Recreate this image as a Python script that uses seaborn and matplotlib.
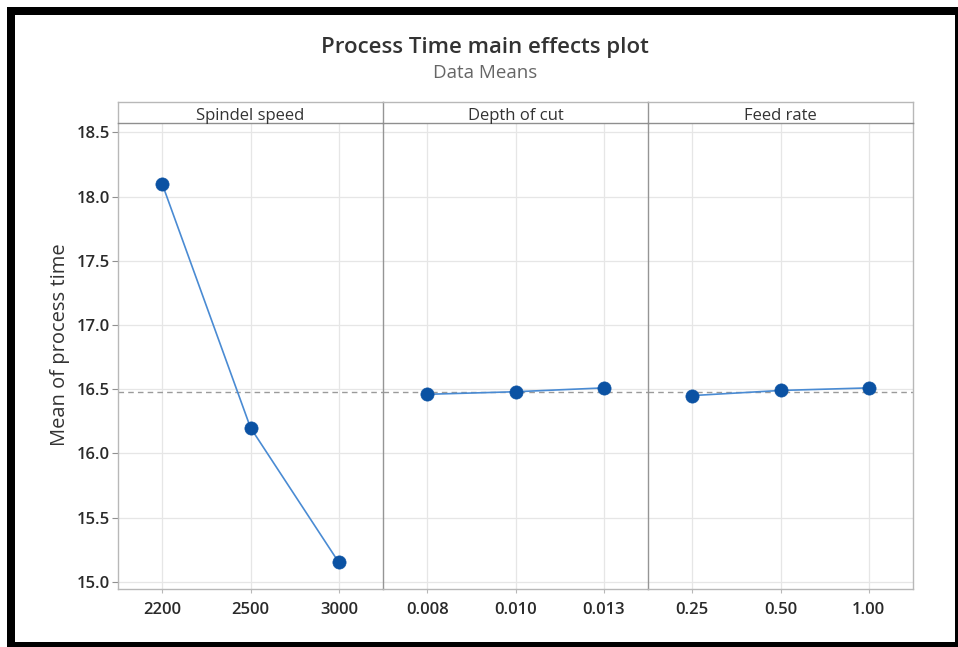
import matplotlib
matplotlib.use("Agg")
import matplotlib.pyplot as plt
from matplotlib.patches import Rectangle
import seaborn as sns

# ---- data ----
factors = ["Spindel speed", "Depth of cut", "Feed rate"]
spindle_levels = ["2200", "2500", "3000"]
spindle_means = [18.10, 16.20, 15.15]
depth_levels = ["0.008", "0.010", "0.013"]
depth_means = [16.46, 16.48, 16.51]
feed_levels = ["0.25", "0.50", "1.00"]
feed_means = [16.45, 16.49, 16.51]
grand_mean = 16.48
y_ticks = [15.0, 15.5, 16.0, 16.5, 17.0, 17.5, 18.0, 18.5]

title = "Process Time main effects plot"
subtitle = "Data Means"
ylabel = "Mean of process time"

sns.set_theme(style="white")
plt.rcParams["font.family"] = ["Open Sans", "DejaVu Sans"]

W, H = 958, 647
fig = plt.figure(figsize=(W / 100, H / 100), dpi=100)
fig.patch.set_facecolor("white")


def px(x0, y0, x1, y1):
    return [x0 / W, 1 - y1 / H, (x1 - x0) / W, (y1 - y0) / H]


# black frame
fig.add_artist(Rectangle((7 / W, 0), 951 / W, 640 / H, transform=fig.transFigure,
                         facecolor="black", edgecolor="none", zorder=-10))
fig.add_artist(Rectangle((15 / W, 5 / H), 940 / W, 627 / H, transform=fig.transFigure,
                         facecolor="white", edgecolor="none", zorder=-9))

line_c = "#4A8BD3"
mark_c = "#0B52A3"
spine_c = "#B8B8B8"
div_c = "#959595"
grid_c = "#E6E6E6"
text_c = "#2A2A2A"

panels = [(spindle_levels, spindle_means), (depth_levels, depth_means), (feed_levels, feed_means)]
edges = [118, 383, 648, 913]
ymin, ymax = 14.943, 18.574

for i, (name, (levels, means)) in enumerate(zip(factors, panels)):
    x0, x1 = edges[i], edges[i + 1]
    ax = fig.add_axes(px(x0, 123, x1, 589))
    ax.set_facecolor("none")
    sns.pointplot(x=levels, y=means, ax=ax, color=line_c, errorbar=None,
                  markers="o", linestyles="-", linewidth=1.2,
                  markersize=9.5, markerfacecolor=mark_c, markeredgecolor=mark_c,
                  markeredgewidth=0.5)
    ax.axhline(grand_mean, color="#9A9A9A", lw=1.0, ls=(0, (4, 3)), zorder=1)
    ax.set_xlim(-0.5, 2.5)
    ax.set_ylim(ymin, ymax)
    ax.set_yticks(y_ticks)
    ax.set_axisbelow(True)
    ax.grid(True, color=grid_c, lw=0.9)
    ax.xaxis.grid(True, color=grid_c, lw=0.9)
    ax.set_xlabel("")
    ax.set_ylabel("")
    for s in ax.spines.values():
        s.set_color(spine_c)
        s.set_linewidth(1.0)
        s.set_visible(True)
    ax.spines["top"].set_visible(False)
    if i > 0:
        ax.spines["left"].set_color(div_c)
    if i < 2:
        ax.spines["right"].set_visible(False)
    ax.tick_params(axis="x", bottom=True, length=3, width=0.8, color=spine_c,
                   labelsize=12, labelcolor=text_c, pad=6)
    for lab in ax.get_xticklabels():
        lab.set_fontweight("semibold")
    if i == 0:
        ax.tick_params(axis="y", left=True, length=4, width=0.8, color="#909090",
                       labelsize=12, labelcolor=text_c, pad=2)
        ax.set_yticklabels([f"{v:.1f}" for v in y_ticks], fontweight="semibold")
    else:
        ax.tick_params(axis="y", left=False, labelleft=False)

    sax = fig.add_axes(px(x0, 102, x1, 123))
    sax.set_xticks([])
    sax.set_yticks([])
    sax.set_facecolor("white")
    for s in sax.spines.values():
        s.set_color(spine_c)
        s.set_linewidth(1.0)
    sax.spines["bottom"].set_color("#8F8F8F")
    if i > 0:
        sax.spines["left"].set_color(div_c)
    if i < 2:
        sax.spines["right"].set_visible(False)
    sax.text(0.5, 0.12, name, transform=sax.transAxes, ha="center", va="baseline",
             fontsize=12, color="#333333", fontweight="normal")

fig.text(485 / W, 1 - 47 / H, title, ha="center", va="center", fontsize=16,
         color="#333333", fontweight="semibold")
fig.text(485 / W, 1 - 73 / H, subtitle, ha="center", va="center", fontsize=13.5,
         color="#666666")
fig.text(60 / W, 1 - 345 / H, ylabel, ha="center", va="center", rotation=90,
         fontsize=14.5, color="#333333")

fig.savefig("out.png", dpi=100)
